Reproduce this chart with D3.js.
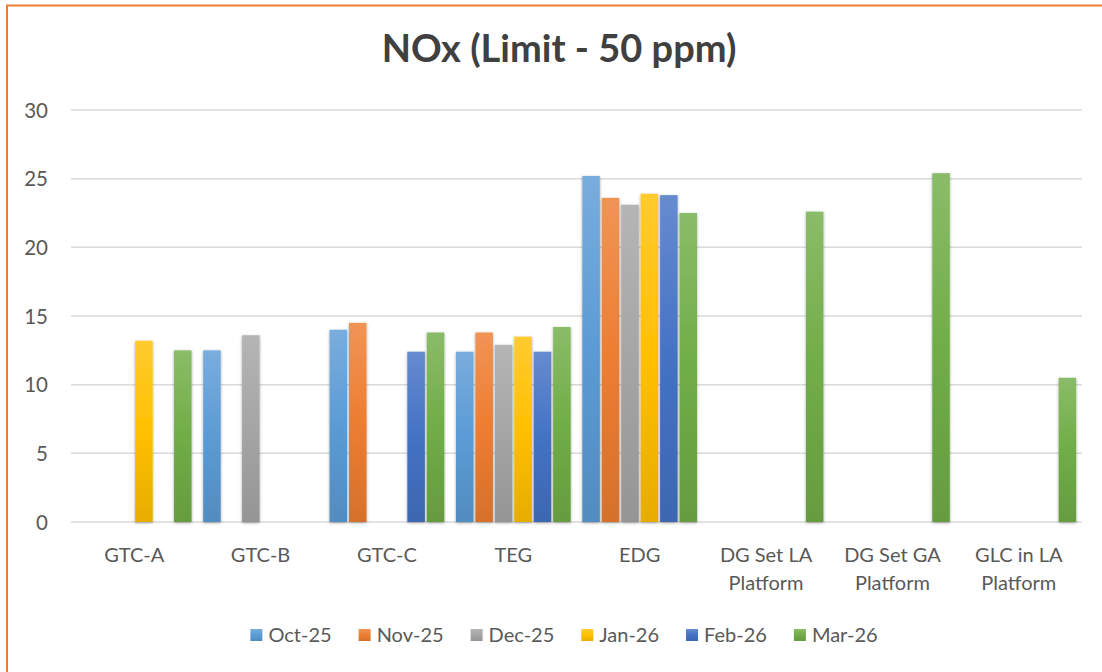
<!DOCTYPE html>
<html>
<head>
<meta charset="utf-8">
<script src="https://cdn.jsdelivr.net/npm/d3@7"></script>
<style>
  html, body { margin: 0; padding: 0; background: #fff; }
  svg { display: block; }
  text { font-family: Lato, "Open Sans", sans-serif; }
</style>
</head>
<body>
<svg id="chart" width="1102" height="672"></svg>
<script>
const categories = ["GTC-A", "GTC-B", "GTC-C", "TEG", "EDG", "DG Set LA Platform", "DG Set GA Platform", "GLC in LA Platform"];
const seriesNames = ["Oct-25", "Nov-25", "Dec-25", "Jan-26", "Feb-26", "Mar-26"];
const oct25 = [null, 12.5, 14.0, 12.4, 25.2, null, null, null];
const nov25 = [null, null, 14.5, 13.8, 23.6, null, null, null];
const dec25 = [null, 13.6, null, 12.9, 23.1, null, null, null];
const jan26 = [13.2, null, null, 13.5, 23.9, null, null, null];
const feb26 = [null, null, 12.4, 12.4, 23.8, null, null, null];
const mar26 = [12.5, null, 13.8, 14.2, 22.5, 22.6, 25.4, 10.5];
const yTicks = [0, 5, 10, 15, 20, 25, 30];
const titleText = "NOx (Limit - 50 ppm)";

const seriesValues = [oct25, nov25, dec25, jan26, feb26, mar26];
const baseColors = ["#5B9BD5", "#ED7D31", "#A5A5A5", "#FFC000", "#4472C4", "#70AD47"];

const svg = d3.select("#chart");
const defs = svg.append("defs");

// gradients
baseColors.forEach((c, i) => {
  const g = defs.append("linearGradient").attr("id", "grad" + i)
    .attr("x1", 0).attr("y1", 0).attr("x2", 0).attr("y2", 1);
  g.append("stop").attr("offset", "0%").attr("stop-color", d3.interpolateRgb(c, "#ffffff")(0.18));
  g.append("stop").attr("offset", "50%").attr("stop-color", c);
  g.append("stop").attr("offset", "100%").attr("stop-color", d3.interpolateRgb(c, "#000000")(0.1));
});
const f = defs.append("filter").attr("id", "shadow")
  .attr("x", "-50%").attr("y", "-10%").attr("width", "200%").attr("height", "120%");
f.append("feDropShadow").attr("dx", 0).attr("dy", 1).attr("stdDeviation", 1.8)
  .attr("flood-color", "#000").attr("flood-opacity", 0.35);

// frame
svg.append("rect").attr("x", 7).attr("y", 5.5).attr("width", 1200).attr("height", 800)
  .attr("fill", "none").attr("stroke", "#ED7D31").attr("stroke-width", 2);

const plotLeft = 71, plotRight = 1082, plotTop = 110, plotBottom = 522;

const x0 = d3.scaleBand().domain(categories).range([plotLeft, plotRight]).padding(0);
const x1 = d3.scaleBand().domain(seriesNames).range([0, x0.bandwidth()])
  .paddingInner(0.1).paddingOuter(0.3);
const y = d3.scaleLinear().domain([0, 30]).range([plotBottom, plotTop]);

// gridlines
svg.append("g").selectAll("line").data(yTicks).join("line")
  .attr("x1", plotLeft).attr("x2", plotRight)
  .attr("y1", d => y(d)).attr("y2", d => y(d))
  .attr("stroke", "#d9d9d9").attr("stroke-width", 1.5);

// y axis labels
const yAxis = d3.axisLeft(y).tickValues(yTicks).tickSize(0).tickPadding(0);
const yg = svg.append("g").attr("transform", "translate(48,0)").call(yAxis);
yg.select(".domain").remove();
yg.selectAll("text").attr("font-family", "Lato, sans-serif").attr("font-size", 20.5)
  .attr("fill", "#595959").attr("dy", "0.35em");

// bars
const groups = svg.append("g").selectAll("g").data(categories).join("g")
  .attr("transform", d => `translate(${x0(d)},0)`);
groups.selectAll("rect")
  .data((c, ci) => seriesNames.map((s, si) => ({ s, si, v: seriesValues[si][ci] })).filter(d => d.v != null))
  .join("rect")
  .attr("x", d => x1(d.s))
  .attr("width", x1.bandwidth())
  .attr("y", d => y(d.v))
  .attr("height", d => y(0) - y(d.v))
  .attr("fill", d => `url(#grad${d.si})`)
  .attr("filter", "url(#shadow)");

// x labels with wrapping
const xg = svg.append("g");
categories.forEach(c => {
  const t = xg.append("text").attr("x", x0(c) + x0.bandwidth() / 2).attr("y", 562)
    .attr("text-anchor", "middle").attr("font-size", 20).attr("fill", "#595959");
  const words = c.split(" ");
  let line = [];
  let tspan = t.append("tspan").attr("x", x0(c) + x0.bandwidth() / 2).attr("dy", 0);
  words.forEach(w => {
    line.push(w);
    tspan.text(line.join(" "));
    if (tspan.node().getComputedTextLength() > 110 && line.length > 1) {
      line.pop();
      tspan.text(line.join(" "));
      line = [w];
      tspan = t.append("tspan").attr("x", x0(c) + x0.bandwidth() / 2).attr("dy", 28).text(w);
    }
  });
});

// title
svg.append("text").attr("x", 559).attr("y", 62).attr("text-anchor", "middle")
  .attr("font-size", 38).attr("font-weight", "bold").attr("fill", "#404040").text(titleText);

// legend
const lg = svg.append("g");
let cx = 0;
const gap = 27;
seriesNames.forEach((s, i) => {
  const g = lg.append("g");
  g.append("rect").attr("x", 0).attr("y", -6).attr("width", 12).attr("height", 12)
    .attr("fill", `url(#grad${i})`);
  const t = g.append("text").attr("x", 18).attr("y", 0).attr("dy", "0.35em")
    .attr("font-size", 20).attr("fill", "#595959").text(s);
  const w = 18 + t.node().getComputedTextLength();
  g.attr("transform", `translate(${cx},0)`);
  cx += w + gap;
});
const totalW = cx - gap;
lg.attr("transform", `translate(${564 - totalW / 2},635)`);
</script>
</body>
</html>
